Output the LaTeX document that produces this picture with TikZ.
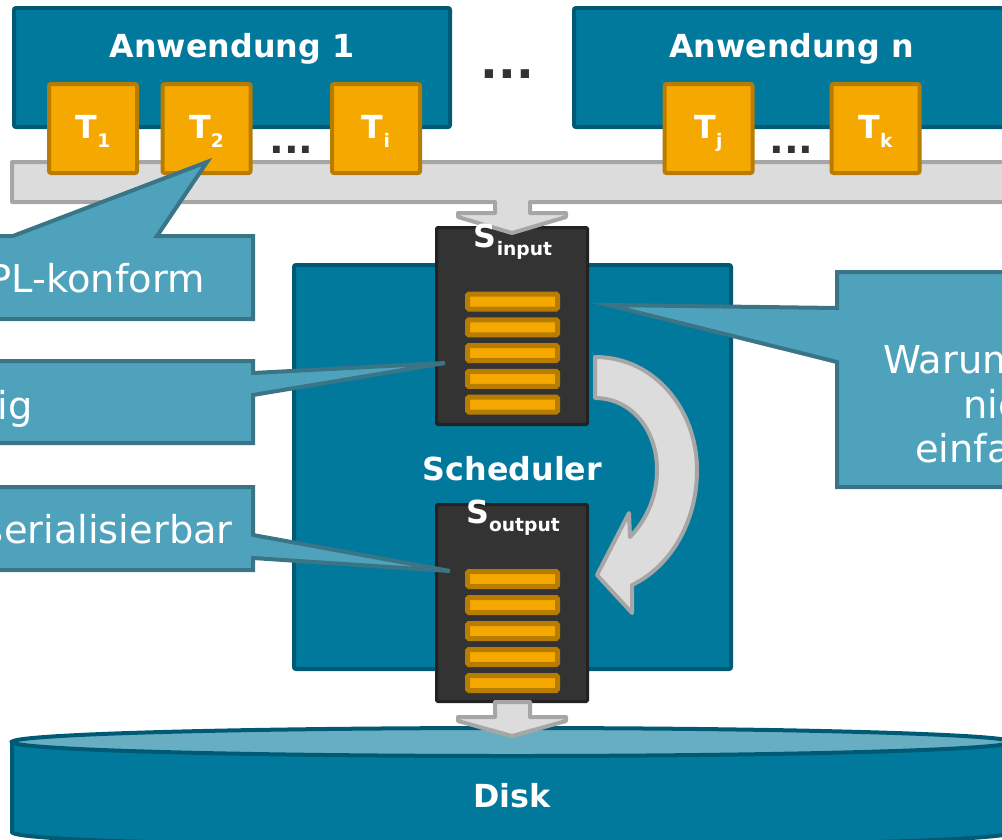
\documentclass[tikz,border=0pt]{standalone}
\usepackage{fontspec}
\setmainfont{DejaVu Sans}
\definecolor{appteal}{HTML}{00799D}
\definecolor{appdark}{HTML}{005A74}
\definecolor{callfill}{HTML}{4EA2BC}
\definecolor{calldark}{HTML}{3A7587}
\definecolor{orangeA}{HTML}{F5A800}
\definecolor{orangeD}{HTML}{B87D00}
\definecolor{grayF}{HTML}{DCDCDC}
\definecolor{grayD}{HTML}{A6A6A6}
\definecolor{darkA}{HTML}{333333}
\definecolor{darkB}{HTML}{222222}
\definecolor{disktopc}{HTML}{67AEC3}
\newcommand{\mysub}[2]{\raisebox{#1}{\fontsize{14}{16}\selectfont #2}}
\begin{document}
\begin{tikzpicture}[x=0.75pt,y=-0.75pt,
  appbox/.style={draw=appdark, fill=appteal, line width=3pt, rounded corners=1.5pt, minimum width=327pt, minimum height=89.25pt, inner sep=0},
  schedbox/.style={draw=appdark, fill=appteal, line width=3pt, rounded corners=1.5pt, minimum width=327.75pt, minimum height=303pt, inner sep=0},
  tbox/.style={draw=orangeD, fill=orangeA, line width=3pt, rounded corners=1.5pt, minimum width=66pt, minimum height=66.75pt, inner sep=0},
  darkbox/.style={draw=darkB, fill=darkA, line width=2.25pt, rounded corners=1pt, minimum width=113.25pt, minimum height=147.75pt, inner sep=0},
  slot/.style={draw=orangeD, fill=orangeA, line width=3.75pt, rounded corners=1pt, minimum width=67.5pt, minimum height=11.25pt, inner sep=0},
  grayarrow/.style={draw=grayD, fill=grayF, line width=3pt, line join=round},
  callout/.style={draw=calldark, fill=callfill, line width=3pt, line join=miter},
  lbl/.style={text=white, font=\fontsize{23.8}{28}\selectfont\bfseries, inner sep=0, anchor=base},
  ctext/.style={text=white, font=\fontsize{28.8}{34}\selectfont, inner sep=0},
  dotsA/.style={text=darkA, font=\fontsize{35}{40}\selectfont\bfseries, inner sep=0},
  dotsB/.style={text=darkA, font=\fontsize{29}{34}\selectfont\bfseries, inner sep=0}]
\useasboundingbox (0,0) rectangle (1002,839);
\clip (0,0) rectangle (1002,839);
% scheduler
\node[schedbox] (sched) at (512.5,467) {};
\node[lbl] (schedlbl) at (512.5,480) {Scheduler};
% queues
\node[darkbox] (sin) at (512,326) {};
\node[darkbox] (sout) at (512,603) {};
\foreach \k/\yy in {1/301.5,2/327.3,3/353,4/378.8,5/404.5} \node[slot] (si\k) at (512.5,\yy) {};
\foreach \k/\yy in {1/579,2/605,3/631,4/657,5/683} \node[slot] (so\k) at (512.5,\yy) {};
% curved arrow
\draw[grayarrow] (595,357) .. controls (655,357) and (697,410) .. (697,470) .. controls (697,525) and (668,568) .. (632,585) -- (632,613) -- (597,575) -- (629,513) -- (630,537) .. controls (648,518) and (657,495) .. (657,470) .. controls (657,428) and (630,398) .. (595,398) -- cycle;
% disk
\draw[draw=appdark, fill=appteal, line width=3pt] (12,742) -- (12,832) .. controls (12,850.7) and (1012,850.7) .. (1012,832) -- (1012,742) -- cycle;
\draw[draw=appdark, fill=disktopc, line width=3pt] (512,742) ellipse [x radius=500, y radius=14];
\node[lbl] (disk) at (512,807) {Disk};
% arrow to disk
\draw[grayarrow] (495,702) -- (530,702) -- (530,717) -- (566,717) -- (566,721) -- (512,736) -- (458,721) -- (458,717) -- (495,717) -- cycle;
% applications
\node[appbox] (app1) at (232,67.5) {};
\node[appbox] (appn) at (792,67.5) {};
\node[lbl] (app1lbl) at (232,57) {Anwendung 1};
\node[lbl] (appnlbl) at (791.5,57) {Anwendung n};
\node[dotsA] (dtop) at (507.5,74) {...};
% bar with arrow
\draw[grayarrow] (12,162) -- (1015,162) -- (1015,202) -- (530,202) -- (530,213) -- (566,213) -- (566,217) -- (512,233) -- (458,217) -- (458,213) -- (495,213) -- (495,202) -- (12,202) -- cycle;
% transactions
\node[tbox] (t1) at (93,128.5) {};
\node[tbox] (t2) at (206.5,128.5) {};
\node[tbox] (ti) at (376,128.5) {};
\node[tbox] (tj) at (708.5,128.5) {};
\node[tbox] (tk) at (875.5,128.5) {};
\node[lbl] (t1l) at (93,138) {T\mysub{-6.75pt}{1}};
\node[lbl] (t2l) at (206.5,138) {T\mysub{-6.75pt}{2}};
\node[lbl] (til) at (376,138) {T\mysub{-6.75pt}{i}};
\node[lbl] (tjl) at (708.5,138) {T\mysub{-6.75pt}{j}};
\node[lbl] (tkl) at (875.5,138) {T\mysub{-6.75pt}{k}};
\node[dotsB] (d1) at (291.5,149.5) {...};
\node[dotsB] (d2) at (791.5,149.5) {...};
% queue labels
\node[lbl] (sinl) at (513,247) {S\mysub{-6pt}{input}};
\node[lbl] (soutl) at (513,523) {S\mysub{-6pt}{output}};
% callouts
\draw[callout] (-20,236) -- (13,236) -- (207,162) -- (157,236) -- (253,236) -- (253,319) -- (-20,319) -- cycle;
\draw[callout] (-20,361) -- (253,361) -- (253,373) -- (445,363) -- (253,395) -- (253,443) -- (-20,443) -- cycle;
\draw[callout] (-20,487) -- (253,487) -- (253,535) -- (450,571) -- (253,558) -- (253,570) -- (-20,570) -- cycle;
\draw[callout] (837,272) -- (1020,272) -- (1020,487) -- (837,487) -- (837,362) -- (608,305) -- (837,308) -- cycle;
\node[ctext, anchor=base east] (c1t) at (205,292) {PL-konform};
\node[ctext, anchor=base east] (c2t) at (33,419) {ig};
\node[ctext, anchor=base east] (c3t) at (233,543) {serialisierbar};
\node[ctext, anchor=base west] (c4a) at (883,373) {Warum};
\node[ctext, anchor=base west] (c4b) at (963,418) {nic};
\node[ctext, anchor=base west] (c4c) at (915,462) {einfa};
\end{tikzpicture}
\end{document}
